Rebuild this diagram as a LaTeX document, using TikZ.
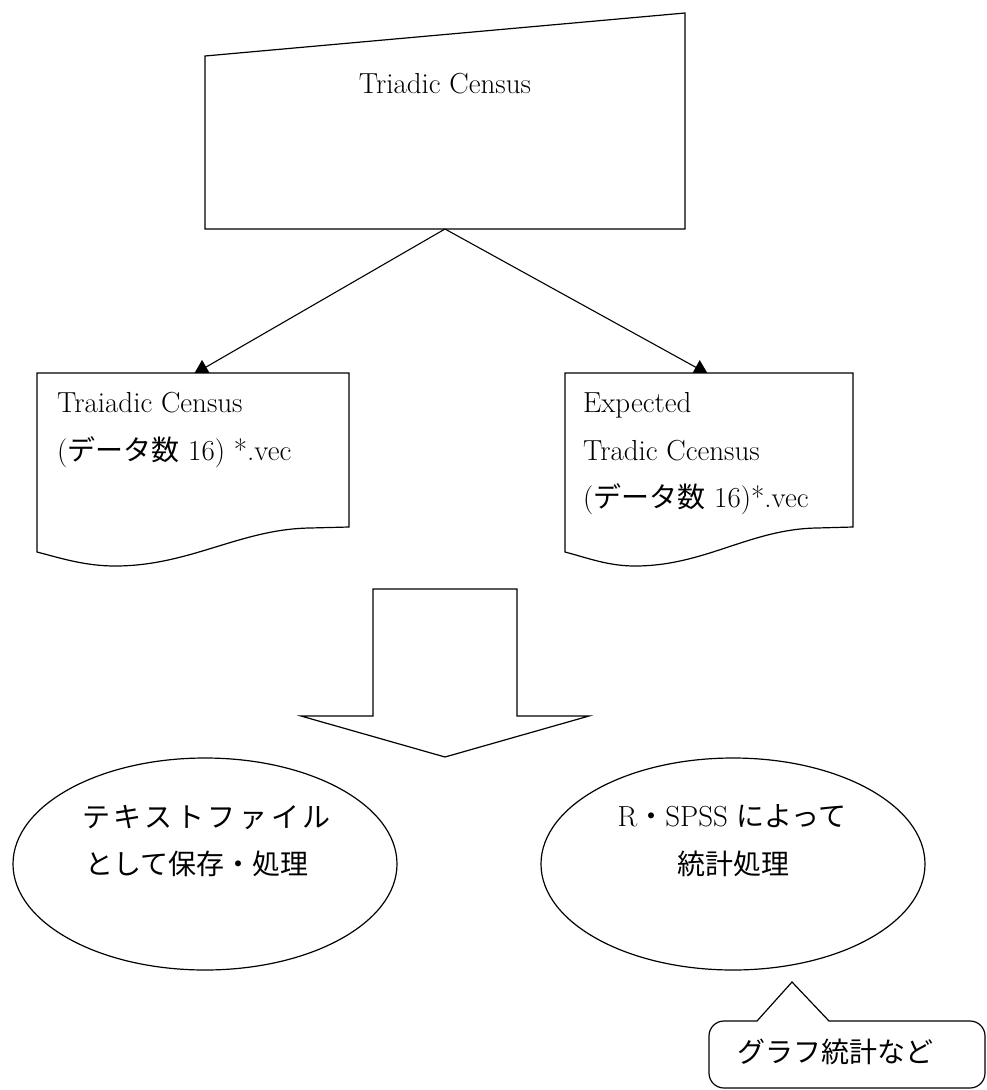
\documentclass[tikz,border=0pt]{standalone}
\usepackage{fontspec}
\usetikzlibrary{arrows.meta,shapes.geometric}
\newfontfamily\jp{Noto Sans CJK JP}
\newfontfamily\jpwide[LetterSpace=13]{Noto Sans CJK JP}
\newcommand\jatext[1]{{\jp\fontsize{28}{34}\selectfont #1}}

\tikzset{
  outline/.style={draw=black, line width=1.2pt, fill=white, line join=miter},
  conn/.style={line width=1.1pt, -{Triangle[length=14pt,width=16pt]}},
  lat/.style={inner sep=0pt, font=\fontsize{29}{35}\selectfont},
  jat/.style={inner sep=0pt, font=\jp\fontsize{28}{34}\selectfont},
  oval/.style={ellipse, draw=black, line width=1.2pt, fill=white,
               minimum width=384pt, minimum height=212pt, inner sep=0pt},
}

\begin{document}
\begin{tikzpicture}[x=1pt, y=-1pt]
\useasboundingbox (0,0) rectangle (986,1090);

% manual-input block at the top
\draw[outline] (205,56) -- (685,13) -- (685,229) -- (205,229) -- cycle;
\node[lat, anchor=base] (census) at (445,93) {Triadic Census};
\coordinate (apex) at (445,229);

% connectors to the two result files
\coordinate (ltip) at (194,374);
\coordinate (rtip) at (708,374);
\draw[conn] (apex) -- (ltip);
\draw[conn] (apex) -- (rtip);

% document shapes
\draw[outline] (37,373) -- (349,373) -- (349,527) -- (310,528)
  .. controls (240,529) and (190,566) .. (115,566)
  .. controls (85,566) and (60,558) .. (37,552) -- cycle;
\draw[outline] (565,373) -- (853,373) -- (853,527) -- (817,528)
  .. controls (750,529) and (705,566) .. (635,566)
  .. controls (608,566) and (588,558) .. (565,552) -- cycle;

\node[lat, anchor=base west] (ldoc1) at (57,412) {Traiadic Census};
\node[lat, anchor=base west] (ldoc2) at (57,460) {(\jatext{データ数} 16) *.vec};

\node[lat, anchor=base west] (rdoc1) at (583,412) {Expected};
\node[lat, anchor=base west] (rdoc2) at (583,460) {Tradic Ccensus};
\node[lat, anchor=base west] (rdoc3) at (583,507) {(\jatext{データ数} 16)*.vec};

% block arrow
\draw[outline] (373,589) -- (517,589) -- (517,716) -- (589,716) -- (445,757)
  -- (301,716) -- (373,716) -- cycle;

% processing ellipses
\node[oval] (store) at (205,864) {};
\node[inner sep=0pt, anchor=base west, font=\jpwide\fontsize{28}{34}\selectfont] (store1) at (82,827) {テキストファイル};
\node[jat, anchor=base west] (store2) at (85,874) {として保存・処理};

\node[oval] (stat) at (733,864) {};
\node[lat, anchor=base] (stat1) at (732,826) {R\jatext{・}SPSS \jatext{によって}};
\node[jat, anchor=base] (stat2) at (733,874) {統計処理};

% callout with a pointer
\draw[outline] (829,1021) -- (970,1021)
  .. controls (978.3,1021) and (985,1027.7) .. (985,1036) -- (985,1073)
  .. controls (985,1081.3) and (978.3,1088) .. (970,1088) -- (724,1088)
  .. controls (715.7,1088) and (709,1081.3) .. (709,1073) -- (709,1036)
  .. controls (709,1027.7) and (715.7,1021) .. (724,1021) -- (757,1021)
  -- (792,982) -- cycle;
\node[jat, anchor=base west] (note) at (737,1062) {グラフ統計など};
\end{tikzpicture}
\end{document}
